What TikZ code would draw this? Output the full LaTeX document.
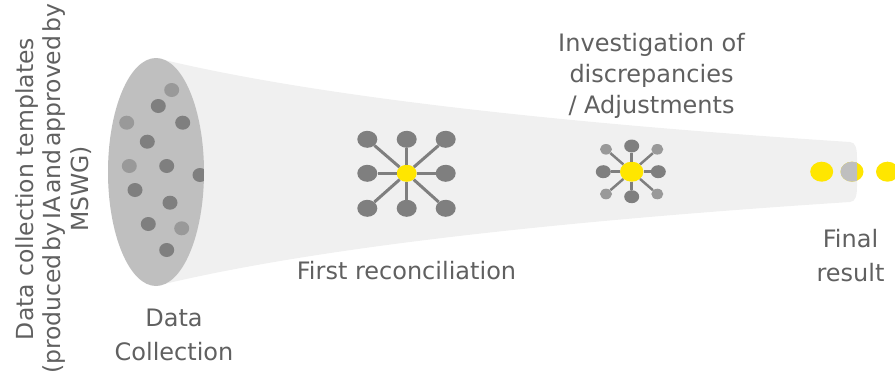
\documentclass[tikz,border=0pt]{standalone}
\usepackage{fontspec}
\setmainfont{DejaVu Sans}
\usetikzlibrary{shapes.geometric}
\definecolor{funnelc}{HTML}{F0F0F0}
\definecolor{ellc}{HTML}{BFBFBF}
\definecolor{darkc}{HTML}{7F7F7F}
\definecolor{lightc}{HTML}{999999}
\definecolor{yelc}{HTML}{FFE600}
\definecolor{txtc}{HTML}{606060}
\newcommand{\myfunnel}{(156,58) .. controls (301.1,93.3) and (531.1,121.3) .. (850,142)
  .. controls (855.5,142.4) and (857,148) .. (857,158) -- (857,186)
  .. controls (857,196) and (855.5,201.6) .. (850,202)
  .. controls (531.1,222.7) and (301.1,250.7) .. (156,286) -- cycle}
\begin{document}
\begin{tikzpicture}[x=1pt,y=-1pt,
  dot/.style={ellipse,inner sep=0pt,draw=none},
  dotdark/.style={dot,fill=darkc,minimum width=15pt,minimum height=14pt},
  dotlight/.style={dot,fill=lightc,minimum width=15pt,minimum height=14pt},
  bigdark/.style={dot,fill=darkc,minimum width=20pt,minimum height=17pt},
  hub/.style={dot,fill=yelc,minimum width=20pt,minimum height=17pt},
  bighub/.style={dot,fill=yelc,minimum width=23.4pt,minimum height=20pt},
  middark/.style={dot,fill=darkc,minimum width=15pt,minimum height=13pt},
  smalllight/.style={dot,fill=lightc,minimum width=12pt,minimum height=10.6pt},
  enddot/.style={dot,fill=yelc,minimum width=23pt,minimum height=20pt},
  spoke/.style={draw=darkc,line width=3pt},
  thinspoke/.style={draw=darkc,line width=2.5pt},
  lbl/.style={text=txtc,inner sep=0pt,align=center}]
\useasboundingbox (0,0) rectangle (895,378);
% funnel
\fill[funnelc] \myfunnel;
% data collection ellipse with dots
\fill[ellc] (156,172) ellipse [x radius=48, y radius=114];
\begin{scope}
\clip (156,172) ellipse [x radius=48, y radius=114];
\node[dotlight] (d1) at (171.7,90) {};
\node[dotdark] (d2) at (158.3,106) {};
\node[dotlight] (d3) at (126.7,122.7) {};
\node[dotdark] (d4) at (182.7,122.7) {};
\node[dotdark] (d5) at (147.3,141.7) {};
\node[dotlight] (d6) at (129.3,166) {};
\node[dotdark] (d7) at (166.7,166) {};
\node[dotdark] (d8) at (200,175) {};
\node[dotdark] (d9) at (135,190) {};
\node[dotdark] (d10) at (170,202.7) {};
\node[dotdark] (d11) at (148.3,224) {};
\node[dotlight] (d12) at (181.7,228.3) {};
\node[dotdark] (d13) at (166.7,250) {};
\end{scope}
% first reconciliation star
\node[hub] (h) at (406.7,173.3) {};
\node[bigdark] (a1) at (367.3,139.3) {};
\node[bigdark] (a2) at (406.7,139.3) {};
\node[bigdark] (a3) at (445.7,139.3) {};
\node[bigdark] (a4) at (367.3,173.3) {};
\node[bigdark] (a5) at (445.7,173.3) {};
\node[bigdark] (a6) at (367.3,208.3) {};
\node[bigdark] (a7) at (406.7,208.3) {};
\node[bigdark] (a8) at (445.7,208.3) {};
\foreach \i in {1,...,8} {\draw[spoke] (h) -- (a\i);}
% investigation star
\node[bighub] (g) at (631.7,171.7) {};
\node[middark] (b1) at (631.7,146) {};
\node[middark] (b2) at (631.7,196.7) {};
\node[middark] (b3) at (603.3,171.7) {};
\node[middark] (b4) at (658.3,171.7) {};
\node[smalllight] (c1) at (606,149.3) {};
\node[smalllight] (c2) at (657.3,149.3) {};
\node[smalllight] (c3) at (606,194) {};
\node[smalllight] (c4) at (657.3,194) {};
\foreach \i in {1,...,4} {\draw[thinspoke] (g) -- (b\i); \draw[thinspoke] (g) -- (c\i);}
% final result dots
\node[enddot] (f1) at (821.7,171.7) {};
\node[enddot] (f2) at (852,171.7) {};
\node[enddot] (f3) at (887.5,171.7) {};
\begin{scope}
\clip \myfunnel;
\fill[ellc] (f2.center) ellipse [x radius=11.5, y radius=10];
\end{scope}
% labels
\node[lbl,anchor=north,font=\fontsize{24}{31}\selectfont] (inv) at (651.5,33.5)
  {Investigation of\\discrepancies\\/ Adjustments};
\node[lbl,anchor=base,font=\fontsize{24}{31}\selectfont] (first) at (406.5,279)
  {First reconciliation};
\node[lbl,anchor=north,font=\fontsize{24}{33.3}\selectfont] (dc) at (174,309.2)
  {Data\\Collection};
\node[lbl,anchor=north,font=\fontsize{24}{34.4}\selectfont] (fin) at (850.5,229)
  {Final\\result};
\node[lbl,anchor=north,rotate=90,font=\fontsize{23.5}{27.5}\selectfont] (tmpl) at (15,189)
  {Data collection templates\\{\spaceskip=0.12em\relax (produced by IA and approved by}\\MSWG)};
\end{tikzpicture}
\end{document}
